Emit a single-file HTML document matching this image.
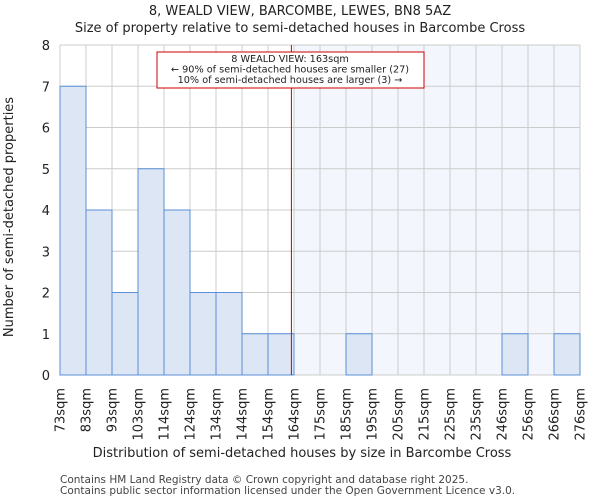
<!DOCTYPE html>
<html><head><meta charset="utf-8"><style>
body{margin:0;background:#fff;font-family:"DejaVu Sans","Liberation Sans",sans-serif}
svg text{font-family:"DejaVu Sans","Liberation Sans",sans-serif;fill:#222}
</style></head><body>
<svg id="chart" width="600" height="500" viewBox="0 0 600 500"></svg>
<script>
const categories=["73sqm","83sqm","93sqm","103sqm","114sqm","124sqm","134sqm","144sqm","154sqm","164sqm","175sqm","185sqm","195sqm","205sqm","215sqm","225sqm","235sqm","246sqm","256sqm","266sqm","276sqm"];
const counts=[7,4,2,5,4,2,2,1,1,0,0,1,0,0,0,0,0,1,0,1];
const yTicks=[0,1,2,3,4,5,6,7,8];
const markerBin=8.9;
const NS="http://www.w3.org/2000/svg";
const svg=document.getElementById('chart');
const L=60,R=580,T=45,B=375,yMax=8;
const bw=(R-L)/counts.length;
const xs=i=>L+i*bw;
const ys=v=>B-(v/yMax)*(B-T);
function mk(tag,attrs,parent){const e=document.createElementNS(NS,tag);for(const k in attrs)e.setAttribute(k,attrs[k]);(parent||svg).appendChild(e);return e;}
let t=mk('text',{x:300,y:15,'text-anchor':'middle','font-size':13});t.textContent="8, WEALD VIEW, BARCOMBE, LEWES, BN8 5AZ";


t=mk('text',{x:300,y:32,'text-anchor':'middle','font-size':13});t.textContent="Size of property relative to semi-detached houses in Barcombe Cross";


const mx=xs(markerBin);
let hl=mk('rect',{x:mx+3,y:T,width:R-mx-3,height:B-T,fill:'#f3f6fd'});


yTicks.forEach(v=>{const g=mk('line',{x1:L,x2:R,y1:ys(v),y2:ys(v),stroke:'#cccccc','stroke-width':1});


const tx=mk('text',{x:L-10,y:ys(v)+5,'text-anchor':'end','font-size':13});tx.textContent=v;

});
categories.forEach((c,i)=>{const g=mk('line',{x1:xs(i),x2:xs(i),y1:T,y2:B,stroke:'#cccccc','stroke-width':1});


const tx=mk('text',{transform:`translate(${xs(i)+4.5},388) rotate(-90)`,'text-anchor':'end','font-size':13});tx.textContent=c;

});
counts.forEach((v,i)=>{if(v<=0)return;const r=mk('rect',{x:xs(i),y:ys(v),width:bw,height:B-ys(v),fill:'#dde6f4',stroke:'#5b8fd6','stroke-width':1});

});
let ml=mk('line',{x1:mx,x2:mx,y1:T,y2:B,stroke:'#cc0000','stroke-width':1});


const g=mk('g',{});


mk('rect',{x:157,y:52,width:267,height:36,fill:'#fff',stroke:'#cc0000','stroke-width':1},g);
["8 WEALD VIEW: 163sqm","← 90% of semi-detached houses are smaller (27)","10% of semi-detached houses are larger (3) →"].forEach((s,i)=>{const a=mk('text',{x:290,y:62+i*10.5,'text-anchor':'middle','font-size':9.7},g);a.textContent=s;});
t=mk('text',{x:302,y:457,'text-anchor':'middle','font-size':13});t.textContent="Distribution of semi-detached houses by size in Barcombe Cross";


t=mk('text',{transform:'translate(13,217) rotate(-90)','text-anchor':'middle','font-size':13});t.textContent="Number of semi-detached properties";


t=mk('text',{x:60,y:483,'font-size':10.5,style:'fill:#444'});t.textContent="Contains HM Land Registry data © Crown copyright and database right 2025.";


t=mk('text',{x:60,y:494,'font-size':10.5,style:'fill:#444'});t.textContent="Contains public sector information licensed under the Open Government Licence v3.0.";


</script>
</body></html>
